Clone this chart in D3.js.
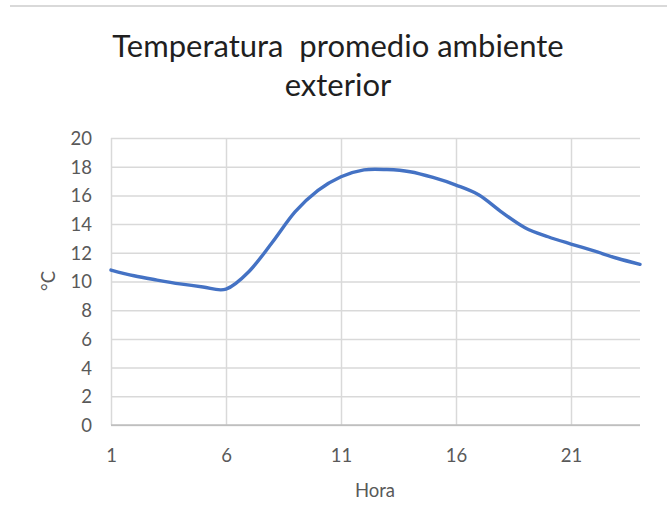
<!DOCTYPE html>
<html>
<head>
<meta charset="utf-8">
<script src="https://cdn.jsdelivr.net/npm/d3@7"></script>
<style>
  html, body { margin: 0; padding: 0; background: #fff; }
  svg { display: block; }
  text { font-family: Lato, "Open Sans", sans-serif; }
</style>
</head>
<body>
<svg id="chart" width="667" height="529"></svg>
<script>
const titleLines = ["Temperatura  promedio ambiente", "exterior"];
const xLabel = "Hora";
const yLabel = "°C";
const hours = [1,2,3,4,5,6,7,8,9,10,11,12,13,14,15,16,17,18,19,20,21,22,23,24];
const temps = [10.8,10.4,10.1,9.83,9.62,9.47,10.7,12.7,14.85,16.35,17.3,17.78,17.8,17.65,17.25,16.72,16.03,14.82,13.75,13.12,12.61,12.13,11.62,11.2];
const xTicks = [1,6,11,16,21];
const yTicks = [0,2,4,6,8,10,12,14,16,18,20];

const svg = d3.select("#chart");
const x = d3.scaleLinear().domain([1,24]).range([111,640]);
const y = d3.scaleLinear().domain([0,20]).range([425,138]);

// top separator line
svg.append("line").attr("x1",10).attr("x2",667).attr("y1",6).attr("y2",6)
  .attr("stroke","#d9d9d9").attr("stroke-width",2);

// horizontal gridlines
const yAxis = d3.axisLeft(y).tickValues(yTicks).tickSize(-(640-111)).tickPadding(19).tickFormat(d3.format("d"));
const gy = svg.append("g").attr("transform","translate(111,0)").call(yAxis);
gy.select(".domain").remove();
gy.selectAll(".tick line").attr("stroke","#d9d9d9").attr("stroke-width",1.5);
gy.selectAll(".tick text").attr("fill","#595959").style("font-size","18.5px").attr("dy","0.35em");

// vertical gridlines
const xAxis = d3.axisBottom(x).tickValues(xTicks).tickSize(-(425-138)).tickPadding(0).tickFormat(d3.format("d"));
const gx = svg.append("g").attr("transform","translate(0,425)").call(xAxis);
gx.select(".domain").remove();
gx.selectAll(".tick line").attr("stroke","#d9d9d9").attr("stroke-width",1.5);
gx.selectAll(".tick text").attr("fill","#595959").style("font-size","18.5px").attr("y",37).attr("dy",0);

// x axis baseline
svg.append("line").attr("x1",x(1)).attr("x2",x(24)).attr("y1",y(0)).attr("y2",y(0))
  .attr("stroke","#bfbfbf").attr("stroke-width",1.75);

// series line
const line = d3.line().x((d,i)=>x(hours[i])).y(d=>y(d)).curve(d3.curveCardinal.tension(0));
svg.append("path").datum(temps).attr("d",line)
  .attr("fill","none").attr("stroke","#4472C4").attr("stroke-width",3.4)
  .attr("stroke-linecap","round").attr("stroke-linejoin","round");

// title
const title = svg.append("text").attr("text-anchor","middle").attr("fill","#1f1f1f").style("font-size","31px");
title.append("tspan").attr("x",338).attr("y",57).text(titleLines[0]).style("white-space","pre").attr("xml:space","preserve");
title.append("tspan").attr("x",338).attr("y",96).text(titleLines[1]);

// axis titles
svg.append("text").attr("x",375).attr("y",497).attr("text-anchor","middle")
  .attr("fill","#595959").style("font-size","18.5px").text(xLabel);
svg.append("text").attr("transform","translate(55,281) rotate(-90)").attr("text-anchor","middle")
  .attr("fill","#595959").style("font-size","18.5px").text(yLabel);
</script>
</body>
</html>
